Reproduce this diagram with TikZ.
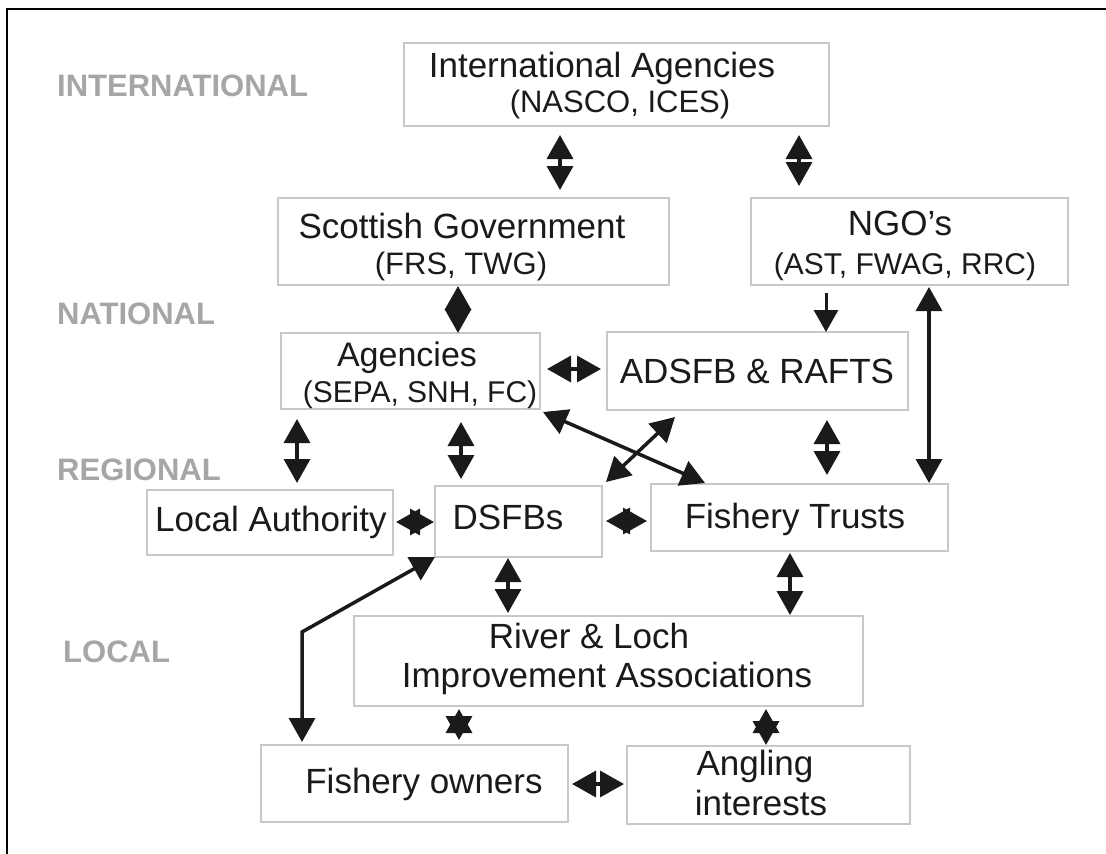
\documentclass[tikz,border=0pt]{standalone}
\usepackage{fontspec}
\setmainfont{Liberation Sans}
\usetikzlibrary{arrows.meta,calc}
\definecolor{boxc}{HTML}{C8C8C8}
\definecolor{lvlc}{HTML}{A6A6A6}
\definecolor{ink}{HTML}{1A1A1A}
\begin{document}
\begin{tikzpicture}[x=1pt,y=-1pt,
  box/.style={draw=boxc, line width=1.5pt, fill=white, inner sep=0pt, outer sep=0pt},
  T/.style={anchor=base, text=ink, font=\fontsize{35}{40}\selectfont, inner sep=0pt},
  S/.style={anchor=base, text=ink, font=\fontsize{31}{36}\selectfont, inner sep=0pt},
  lvl/.style={anchor=base west, text=lvlc, font=\bfseries\fontsize{31}{36}\selectfont, inner sep=0pt},
  arr/.style={draw=ink, line width=3.5pt, {Triangle[width=26pt,length=24pt]}-{Triangle[width=26pt,length=24pt]}},
  arrone/.style={draw=ink, line width=3pt, -{Triangle[width=24pt,length=22pt]}}
]
\useasboundingbox (0,0) rectangle (1106,854);
\fill[white] (0,0) rectangle (1106,854);
\draw[line width=2.5pt, black, line join=miter] (7,854) -- (7,9) -- (1106,9);

% level labels
\node[lvl] (lint) at (57,96) {INTERNATIONAL};
\node[lvl] (lnat) at (57,324) {NATIONAL};
\node[lvl] (lreg) at (57,480) {REGIONAL};
\node[lvl] (lloc) at (63,662) {LOCAL};

% boxes
\node[box, minimum width=425pt, minimum height=83pt] (ia) at (616.5,84.5) {};
\node[box, minimum width=391pt, minimum height=87pt] (sg) at (473.5,241.5) {};
\node[box, minimum width=317pt, minimum height=87pt] (ngo) at (909.5,241.5) {};
\node[box, minimum width=259pt, minimum height=76pt] (ag) at (410.5,371) {};
\node[box, minimum width=301pt, minimum height=78pt] (ad) at (757.5,371) {};
\node[box, minimum width=246pt, minimum height=65pt] (la) at (270,522.5) {};
\node[box, minimum width=167pt, minimum height=71pt] (ds) at (518.5,521.5) {};
\node[box, minimum width=297pt, minimum height=67pt] (ft) at (799.5,517.5) {};
\node[box, minimum width=509pt, minimum height=90pt] (rl) at (608.5,661) {};
\node[box, minimum width=307pt, minimum height=77pt] (fo) at (414.5,783.5) {};
\node[box, minimum width=283pt, minimum height=78pt] (an) at (768.5,785) {};

% texts
\node[T] (ia1) at (602,77) {International Agencies};
\node[S] (ia2) at (620,112) {(NASCO, ICES)};
\node[T] (sg1) at (462,238) {Scottish Government};
\node[S] (sg2) at (461,274) {(FRS, TWG)};
\node[T] (ngo1) at (900,235) {NGO’s};
\node[S, font=\fontsize{30}{36}\selectfont] (ngo2) at (905,274) {(AST, FWAG, RRC)};
\node[T, font=\fontsize{34}{40}\selectfont] (ag1) at (407,366) {Agencies};
\node[S, font=\fontsize{30}{36}\selectfont] (ag2) at (420,402) {(SEPA, SNH, FC)};
\node[T] (ad1) at (757,383) {ADSFB \& RAFTS};
\node[T] (la1) at (271,531) {Local Authority};
\node[T] (ds1) at (508,529) {DSFBs};
\node[T] (ft1) at (795,528) {Fishery Trusts};
\node[T] (rl1) at (589,648) {River \& Loch};
\node[T] (rl2) at (607,687) {Improvement Associations};
\node[T] (fo1) at (424,793) {Fishery owners};
\node[T] (an1) at (755,775) {Angling};
\node[T] (an2) at (761,815) {interests};

% x / y references for connectors
\coordinate (xa) at (560,0);
\coordinate (xb) at (799,0);
\coordinate (xc) at (458,0);
\coordinate (xd) at (826,0);
\coordinate (xe) at (929,0);
\coordinate (xf) at (297,0);
\coordinate (xg) at (461,0);
\coordinate (xh) at (827,0);
\coordinate (xi) at (508,0);
\coordinate (xj) at (790,0);
\coordinate (xk) at (459,0);
\coordinate (xl) at (766,0);
\coordinate (ya) at (0,369);
\coordinate (yb) at (0,522);
\coordinate (yc) at (0,521);
\coordinate (yd) at (0,784);
\coordinate (bend) at (302,632);

% connectors
\draw[arr, shorten <=9pt, shorten >=8pt] (ia.south -| xa) -- (sg.north -| xa);
\draw[arr, shorten <=9pt, shorten >=12pt] (ia.south -| xb) -- (ngo.north -| xb);
\draw[arr, shorten <=1pt] (sg.south -| xc) -- (ag.north -| xc);
\draw[arrone, shorten <=8pt] (ngo.south -| xd) -- (ad.north -| xd);
\draw[arr, shorten <=2pt, shorten >=1pt] (ngo.south -| xe) -- (ft.north -| xe);
\draw[arr, shorten <=7pt, shorten >=6pt] (ag.east |- ya) -- (ad.west |- ya);
\draw[arr, shorten <=10pt, shorten >=7pt] (ag.south -| xf) -- (la.north -| xf);
\draw[arr, shorten <=13pt, shorten >=7pt] (ag.south -| xg) -- (ds.north -| xg);
\draw[arr] ($(ag.south east)+(3,3)$) -- ($(ft.north west)+(54,-1)$);
\draw[arr] ($(ad.south west)+(68,7)$) -- ($(ds.north east)+(4,-4)$);
\draw[arr, shorten <=10pt, shorten >=9pt] (ad.south -| xh) -- (ft.north -| xh);
\draw[arr, shorten <=3pt, shorten >=1pt] (la.east |- yb) -- (ds.west |- yb);
\draw[arr, shorten <=4pt, shorten >=4pt] (ds.east |- yc) -- (ft.west |- yc);
\draw[arr, shorten <=1pt, shorten >=3pt] (ds.south -| xi) -- (rl.north -| xi);
\draw[arr, shorten <=2pt, shorten >=1pt] (ft.south -| xj) -- (rl.north -| xj);
\draw[arr, line join=miter, shorten >=3pt] (ds.south west) -- (bend) -- (fo.north -| bend);
\draw[arr, shorten <=3pt, shorten >=5pt] (rl.south -| xk) -- (fo.north -| xk);
\draw[arr, shorten <=3pt, shorten >=1pt] (rl.south -| xl) -- (an.north -| xl);
\draw[arr, shorten <=4pt, shorten >=3pt] (fo.east |- yd) -- (an.west |- yd);
\end{tikzpicture}
\end{document}
